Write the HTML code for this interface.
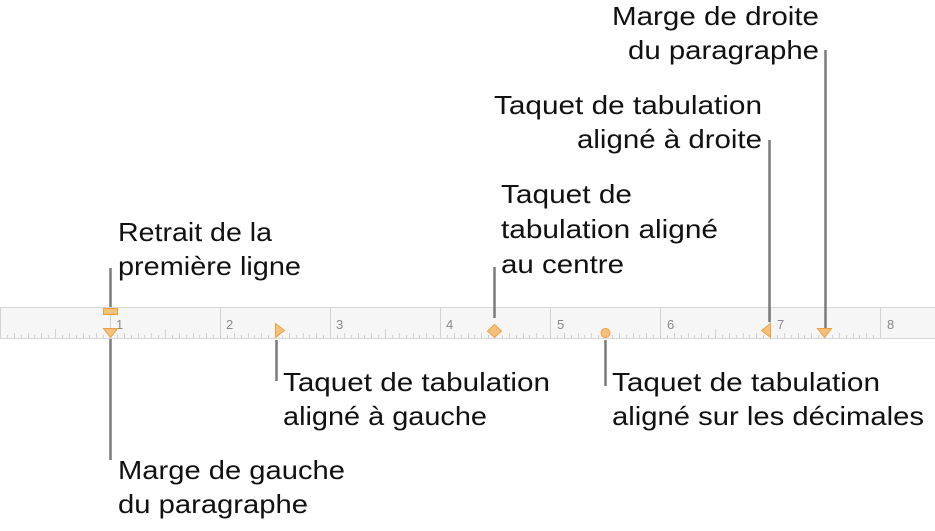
<!DOCTYPE html>
<html><head><meta charset="utf-8"><style>
html,body{margin:0;padding:0;background:#fff;}
svg{display:block;}
text{font-family:"Liberation Sans",sans-serif;font-size:26px;fill:#111;}
.n{font-size:13px;fill:#8a8a8a;}
</style></head><body>
<svg width="935" height="531" viewBox="0 0 935 531" xmlns="http://www.w3.org/2000/svg">
<rect x="0" y="307" width="935" height="31" fill="#f6f6f6"/>
<line x1="0" y1="307.5" x2="935" y2="307.5" stroke="#d6d6d6"/>
<line x1="0" y1="338.5" x2="935" y2="338.5" stroke="#d6d6d6"/>
<g stroke="#d2d2d2" stroke-width="1" id="ticks"></g>
<g>
<text class="n" x="116" y="329">1</text><text class="n" x="226" y="329">2</text><text class="n" x="336" y="329">3</text><text class="n" x="446" y="329">4</text><text class="n" x="557" y="329">5</text><text class="n" x="667" y="329">6</text><text class="n" x="777" y="329">7</text><text class="n" x="887" y="329">8</text>
</g>
<g stroke="#7a7a7a" stroke-width="2.5">
<line x1="110.5" y1="268" x2="110.5" y2="307"/>
<line x1="110.5" y1="339" x2="110.5" y2="460"/>
<line x1="276.5" y1="340" x2="276.5" y2="381"/>
<line x1="494.5" y1="267" x2="494.5" y2="318"/>
<line x1="605.5" y1="340" x2="605.5" y2="386"/>
<line x1="769.5" y1="140" x2="769.5" y2="322"/>
<line x1="825.5" y1="50" x2="825.5" y2="328"/>
</g>
<g fill="#f5c07a" stroke="#f0a040" stroke-width="1">
<rect x="103.5" y="308.5" width="14" height="6"/>
<polygon points="103.5,328.5 117.5,328.5 110.5,337.5"/>
<polygon points="275.5,323.5 284.5,330.5 275.5,337.5"/>
<polygon points="494.5,324.5 501.5,331 494.5,337.5 487.5,331"/>
<circle cx="605.5" cy="333" r="4.5"/>
<polygon points="770.5,323.5 770.5,337.5 761.5,330.5"/>
<polygon points="817.5,328.5 831.5,328.5 824.5,337.5"/>
</g>
<g>
<text x="612" y="25" textLength="207" lengthAdjust="spacingAndGlyphs">Marge de droite</text>
<text x="628" y="59" textLength="191" lengthAdjust="spacingAndGlyphs">du paragraphe</text>
<text x="494" y="114" textLength="268" lengthAdjust="spacingAndGlyphs">Taquet de tabulation</text>
<text x="577" y="148" textLength="185" lengthAdjust="spacingAndGlyphs">aligné à droite</text>
<text x="501" y="203" textLength="131" lengthAdjust="spacingAndGlyphs">Taquet de</text>
<text x="501" y="238" textLength="217" lengthAdjust="spacingAndGlyphs">tabulation aligné</text>
<text x="501" y="273" textLength="123" lengthAdjust="spacingAndGlyphs">au centre</text>
<text x="118" y="241" textLength="154" lengthAdjust="spacingAndGlyphs">Retrait de la</text>
<text x="118" y="275" textLength="183" lengthAdjust="spacingAndGlyphs">première ligne</text>
<text x="283" y="391" textLength="267" lengthAdjust="spacingAndGlyphs">Taquet de tabulation</text>
<text x="283" y="425" textLength="204" lengthAdjust="spacingAndGlyphs">aligné à gauche</text>
<text x="612" y="391" textLength="268" lengthAdjust="spacingAndGlyphs">Taquet de tabulation</text>
<text x="612" y="425" textLength="312" lengthAdjust="spacingAndGlyphs">aligné sur les décimales</text>
<text x="118" y="479" textLength="227" lengthAdjust="spacingAndGlyphs">Marge de gauche</text>
<text x="118" y="513" textLength="190" lengthAdjust="spacingAndGlyphs">du paragraphe</text>
</g>
</svg>
<script>
var g=document.getElementById('ticks'),s='';
for(var i=0;i<=8*16;i++){var x=Math.round(i*6.875)+0.5;var h;
if(i%16==0){s+='<line x1="'+x+'" y1="308" x2="'+x+'" y2="338"/>';continue;}
h=(i%8==0)?9:(i%2==0?5:3);
s+='<line x1="'+x+'" y1="'+(338-h)+'" x2="'+x+'" y2="338"/>';}
g.innerHTML=s;
</script>
</body></html>
